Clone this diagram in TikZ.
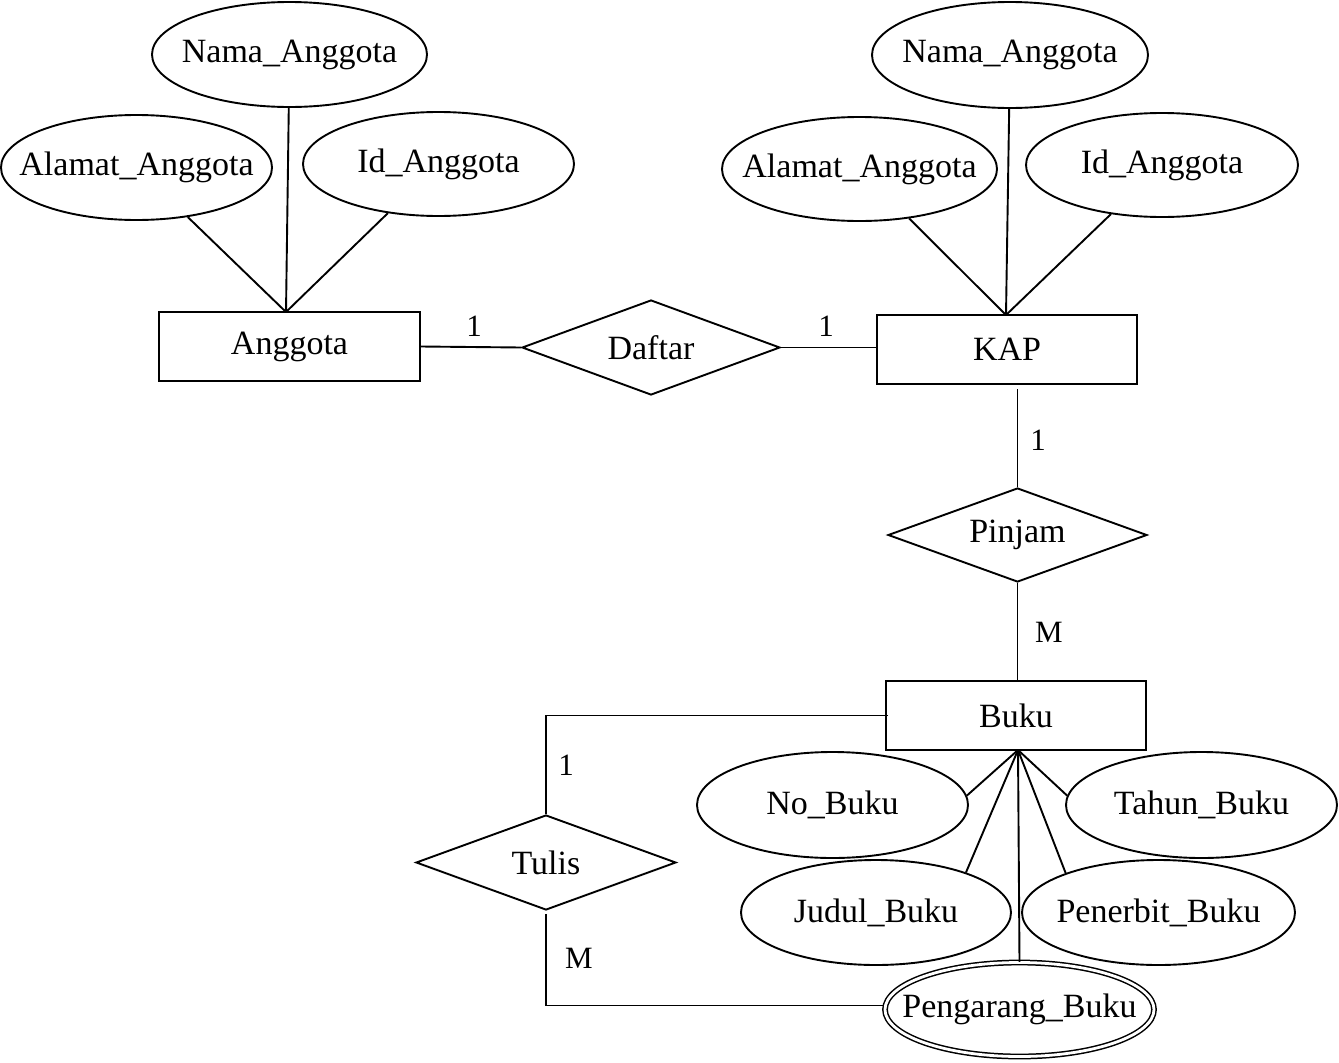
\documentclass[tikz,border=0pt]{standalone}
\usepackage{fontspec}
\setmainfont{Liberation Serif}
\usetikzlibrary{shapes.geometric}
\begin{document}
\begin{tikzpicture}[x=1pt,y=-1pt, line width=1.9pt,
  every node/.style={font=\fontsize{34}{40}\selectfont, inner sep=0pt},
  entity/.style={draw, rectangle, minimum width=261pt, minimum height=69pt},
  attr/.style={draw, ellipse, inner xsep=-50pt, inner ysep=0pt, minimum width=272pt, minimum height=105pt},
  rel/.style={draw, diamond, aspect=2.7, minimum width=259pt, minimum height=95pt},
  card/.style={font=\fontsize{31}{37}\selectfont}
]
\useasboundingbox (0,0) rectangle (1339,1063);

% entities
\node[entity] (ang) at (289.5,346.5) {Anggota};
\node[entity, minimum width=260pt] (kap) at (1007,349.5) {KAP};
\node[entity, minimum width=260pt] (buku) at (1016,715.5) {Buku};

% relationships
\node[rel, minimum width=258pt] (daftar) at (651,347.5) {Daftar};
\node[rel, minimum height=94pt] (pinjam) at (1017.5,535) {Pinjam};
\node[rel, minimum width=260pt] (tulis) at (546,862.5) {Tulis};

% attributes of Anggota
\node[attr, minimum width=275pt] (nama1) at (289.5,54.5) {Nama\_Anggota};
\node[attr, minimum width=271pt] (alamat1) at (136.5,167.5) {Alamat\_Anggota};
\node[attr, minimum width=271pt, minimum height=104pt] (id1) at (438.5,164) {Id\_Anggota};

% attributes of KAP
\node[attr, minimum width=276pt, minimum height=106pt] (nama2) at (1010,55) {Nama\_Anggota};
\node[attr, minimum width=275pt, minimum height=104pt] (alamat2) at (859.5,169) {Alamat\_Anggota};
\node[attr, minimum width=272pt, minimum height=104pt] (id2) at (1162,165) {Id\_Anggota};

% attributes of Buku
\node[attr, minimum width=271pt, minimum height=106pt] (nobuku) at (832.5,805) {No\_Buku};
\node[attr, minimum width=271pt, minimum height=106pt] (tahun) at (1201.5,805) {Tahun\_Buku};
\node[attr, minimum width=270pt] (judul) at (876,912.5) {Judul\_Buku};
\node[attr, minimum width=273pt] (penerbit) at (1158.5,912.5) {Penerbit\_Buku};
\node[attr, double, double distance=2.8pt, line width=1.5pt, minimum width=269pt, minimum height=94pt] (peng) at (1019.5,1009.5) {Pengarang\_Buku};

% junction points
\coordinate (angtop) at (286,312);
\coordinate (kaptop) at (1006,315);
\coordinate (bukubot) at (1018,750);

% attribute links
\draw (nama1) -- (angtop);
\draw (alamat1) -- (angtop);
\draw (id1) -- (angtop);
\draw (nama2) -- (kaptop);
\draw (alamat2) -- (kaptop);
\draw (id2) -- (kaptop);
\draw (bukubot) -- (nobuku.4);
\draw (bukubot) -- (judul.24);
\draw (bukubot) -- (tahun.176);
\draw (bukubot) -- (penerbit.157);
\draw (bukubot) -- (peng.north);

% relationship links
\draw (ang.east) -- (daftar.west);
\draw (daftar.east) -- (daftar.east -| kap.west);
\draw (pinjam.north) -- ([yshift=-4pt]pinjam.north |- kap.south);
\draw (pinjam.south) -- (pinjam.south |- buku.north);
\draw ([xshift=3pt]buku.west) -| (tulis.north);
\draw ([yshift=-3pt]tulis.south) |- ([yshift=4pt]peng.west);

% cardinalities
\node[card] (c1) at (474,326) {1};
\node[card] (c2) at (826,326) {1};
\node[card] (c3) at (1038,440) {1};
\node[card] (c4) at (1049,632) {M};
\node[card] (c5) at (566,765) {1};
\node[card] (c6) at (579,958) {M};
\end{tikzpicture}
\end{document}
